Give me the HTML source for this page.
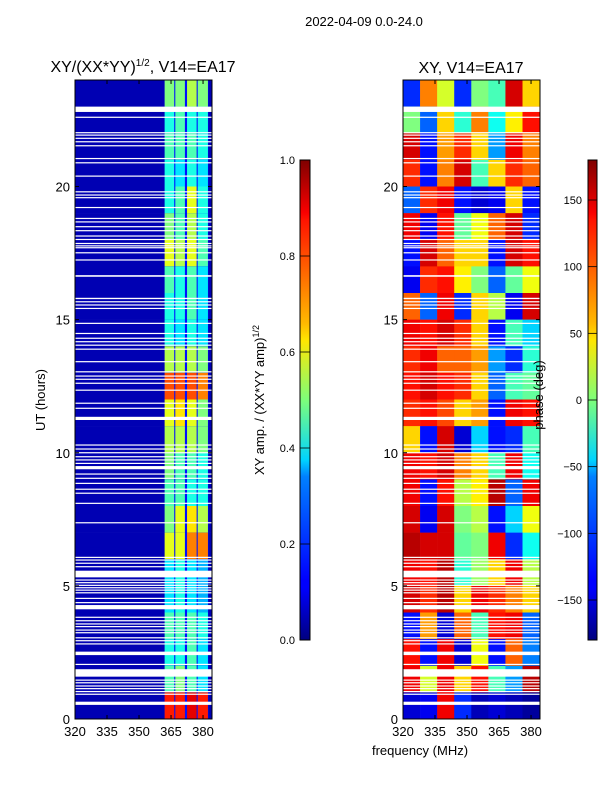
<!DOCTYPE html>
<html><head><meta charset="utf-8"><style>
body{margin:0;background:#fff;}
svg{display:block;font-family:"Liberation Sans",sans-serif;}
</style></head><body>
<svg id="chart" width="600" height="800" viewBox="0 0 600 800" xmlns="http://www.w3.org/2000/svg">
<defs>
<linearGradient id="jet" x1="0" y1="1" x2="0" y2="0">
<stop offset="0" stop-color="#00007f"/><stop offset="0.11" stop-color="#0000ff"/><stop offset="0.125" stop-color="#0000ff"/>
<stop offset="0.34" stop-color="#0080ff"/><stop offset="0.375" stop-color="#00d4ff"/><stop offset="0.5" stop-color="#7dff7a"/>
<stop offset="0.625" stop-color="#ffe600"/><stop offset="0.66" stop-color="#ffb900"/><stop offset="0.875" stop-color="#ff1300"/><stop offset="0.89" stop-color="#fa0000"/><stop offset="1" stop-color="#7f0000"/>
</linearGradient>
</defs>
<text x="364" y="26" font-size="13" text-anchor="middle">2022-04-09 0.0-24.0</text>
<text x="143" y="72" font-size="16" text-anchor="middle">XY/(XX*YY)<tspan font-size="10" dy="-6">1/2</tspan><tspan dy="6">, V14=EA17</tspan></text>
<text x="471" y="73" font-size="16" text-anchor="middle">XY, V14=EA17</text>
<g id="left"></g>
<g id="right"></g>
<g id="axes"></g>
<text x="45" y="400" font-size="13" text-anchor="middle" transform="rotate(-90 45 400)">UT (hours)</text>
<text x="420" y="755" font-size="13" text-anchor="middle">frequency (MHz)</text>
<rect x="300" y="160" width="10" height="480" fill="url(#jet)" stroke="#000" stroke-width="1"/>
<rect x="588" y="160" width="9" height="480" fill="url(#jet)" stroke="#000" stroke-width="1"/>
<text x="264" y="400" font-size="13" text-anchor="middle" transform="rotate(-90 264 400)">XY amp. / (XX*YY amp)<tspan font-size="9" dy="-5">1/2</tspan></text>
<text x="543" y="395" font-size="13" text-anchor="middle" transform="rotate(-90 543 395)">phase (deg)</text>
<g id="cb"></g>
</svg>
<script>
const hours=[23,22,21,20,19,18,17,16,15,14,13,12,11,10,9,8,7,6,5,4,3,2,1,0];
const ampStrips=[[362,366.5],[367,371.5],[372.5,377],[377.5,382.3]];
const ampValues=[[0.5,0.5,0.55,0.5],[0.4,0.45,0.4,0.4],[0.45,0.45,0.45,0.4],[0.4,0.35,0.4,0.35],[0.4,0.45,0.6,0.4],[0.5,0.45,0.55,0.4],[0.6,0.55,0.6,0.45],[0.45,0.4,0.45,0.35],[0.4,0.4,0.45,0.35],[0.4,0.35,0.4,0.35],[0.55,0.55,0.55,0.5],[0.8,0.8,0.8,0.75],[0.6,0.65,0.6,0.5],[0.55,0.55,0.55,0.5],[0.5,0.45,0.45,0.4],[0.45,0.45,0.4,0.4],[0.5,0.6,0.65,0.55],[0.6,0.6,0.75,0.75],[0.35,0.4,0.35,0.3],[0.35,0.4,0.35,0.3],[0.45,0.45,0.45,0.4],[0.4,0.4,0.45,0.35],[0.45,0.5,0.45,0.35],[0.85,0.85,0.9,0.85]];
const ampBackground=0.05;
const phaseCols=[320,328,336,344,352,360,368,376];
const phaseValues=[[-120,90,30,-120,0,-20,150,60],[0,-100,60,-30,90,-40,50,130],[150,-130,80,120,60,-80,140,90],[120,-130,90,150,-20,60,120,100],[-100,120,140,-130,-150,-140,60,-130],[140,-140,130,-10,40,100,150,-120],[-130,150,100,60,60,-130,150,130],[-140,120,130,50,0,-100,-10,40],[100,-100,140,-120,60,20,-140,150],[140,130,150,120,60,-130,-20,-60],[120,140,100,100,80,-80,-120,-30],[130,150,130,120,60,-100,-20,-10],[120,130,110,60,80,-130,140,130],[60,-130,150,-150,-60,-130,-120,-20],[140,130,150,90,60,-20,140,-40],[140,-130,130,20,50,160,-100,140],[150,-140,150,0,20,-130,-60,40],[160,150,150,-10,0,140,-120,-40],[140,130,160,-30,10,60,140,20],[150,120,160,60,140,120,90,60],[-130,80,-150,100,-20,130,140,-100],[130,-130,140,-150,40,-130,100,-90],[140,30,140,60,130,-20,-80,160],[-150,-140,140,-120,-160,-150,-160,-170]];
const flagsThick=[[22.8,23.0],[16.61,16.67],[15.77,15.82],[11.23,11.35],[9.38,9.5],[5.32,5.57],[4.12,4.28],[2.4,2.53],[1.59,1.87],[0.53,0.65]];
const flagsThin=[22.6,22.02,21.93,21.81,21.68,21.53,21.05,20.89,20.39,19.8,19.68,19.58,19.21,18.8,18.67,18.49,18.34,18.14,18.01,17.86,17.77,17.7,17.51,17.24,15.67,15.55,15.42,14.86,14.48,14.3,14.17,14.04,13.89,13.42,13.04,12.88,12.76,12.61,12.35,11.86,11.67,10.29,10.14,10.0,9.85,9.73,9.6,9.2,9.04,8.85,8.63,8.48,8.1,7.37,6.07,5.97,5.85,5.72,5.22,5.12,5.02,4.93,4.84,4.74,4.53,4.37,3.82,3.69,3.57,3.47,3.34,3.24,3.05,2.94,2.82,2.05,1.46,1.36,1.24,1.14,1.03,0.93];
const yTicks=[0,5,10,15,20];
const xTicks=[320,335,350,365,380];
const ampTicks=[0.0,0.2,0.4,0.6,0.8,1.0];
const phaseTicks=[150,100,50,0,-50,-100,-150];

const NS='http://www.w3.org/2000/svg';
const F0=320,F1=384.2,H0=0,H1=24,Y0=719,Y1=80;
const panels=[75,403],PW=137;
function fx(p,f){return panels[p]+(f-F0)/(F1-F0)*PW;}
function hy(h){return Y0-(h-H0)/(H1-H0)*(Y0-Y1);}
function clip(v){return Math.max(0,Math.min(1,v));}
function jet(v){const r=clip(1.5-Math.abs(4*v-3)),g=clip(1.5-Math.abs(4*v-2)),b=clip(1.5-Math.abs(4*v-1));return `rgb(${Math.round(r*255)},${Math.round(g*255)},${Math.round(b*255)})`;}
function el(tag,attrs,parent){const e=document.createElementNS(NS,tag);for(const k in attrs)e.setAttribute(k,attrs[k]);parent.appendChild(e);return e;}
const L=document.getElementById('left'),R=document.getElementById('right'),A=document.getElementById('axes'),CB=document.getElementById('cb');

hours.forEach((h,i)=>{
  const y=hy(h+1),hh=hy(h)-hy(h+1);
  let r=el('rect',{x:fx(0,F0),y:y,width:fx(0,F1)-fx(0,F0),height:hh+0.3,fill:jet(ampBackground)},L);
  
  
  let g=el('rect',{x:fx(0,362),y:y,width:fx(0,382.5)-fx(0,362),height:hh+0.3,fill:jet(0.14)},L);
  
  
  ampStrips.forEach((s,j)=>{
    const c=el('rect',{x:fx(0,s[0]),y:y,width:fx(0,s[1])-fx(0,s[0]),height:hh+0.3,fill:jet(ampValues[i][j])},L);
    
    
  });
  phaseCols.forEach((f,j)=>{
    const f2=j<phaseCols.length-1?phaseCols[j+1]:F1;
    const c=el('rect',{x:fx(1,f),y:y,width:fx(1,f2)-fx(1,f)+0.3,height:hh+0.3,fill:jet((phaseValues[i][j]+180)/360)},R);
    
    
  });
});
[0,1].forEach(p=>{
  const grp=p?R:L;
  flagsThick.forEach(f=>{
    const w=el('rect',{x:panels[p],y:hy(f[1]),width:PW,height:hy(f[0])-hy(f[1]),fill:'#fff'},grp);
    
    
  });
  flagsThin.forEach(h=>{
    const w=el('rect',{x:panels[p],y:hy(h)-0.6,width:PW,height:1.2,fill:'#fff'},grp);
    
    
  });
  const fr=el('rect',{x:panels[p],y:Y1,width:PW,height:Y0-Y1,fill:'none',stroke:'#000','stroke-width':1},A);
  
  
  yTicks.forEach(t=>{
    const y=hy(t);
    el('line',{x1:panels[p],x2:panels[p]+4,y1:y,y2:y,stroke:'#000'},A);
    el('line',{x1:panels[p]+PW,x2:panels[p]+PW-4,y1:y,y2:y,stroke:'#000'},A);
    const tx=el('text',{x:panels[p]-5,y:y+5,'font-size':13,'text-anchor':'end'},A);
    tx.textContent=t;
    
    
  });
  xTicks.forEach(t=>{
    const x=fx(p,t);
    el('line',{x1:x,x2:x,y1:Y0,y2:Y0-4,stroke:'#000'},A);
    el('line',{x1:x,x2:x,y1:Y1,y2:Y1+4,stroke:'#000'},A);
    const tx=el('text',{x:x,y:Y0+17,'font-size':13,'text-anchor':'middle'},A);
    tx.textContent=t;
    
    
  });
});
ampTicks.forEach(t=>{
  const y=640-t*480;
  el('line',{x1:300,x2:310,y1:y,y2:y,stroke:'#000','stroke-width':0.8},CB);
  const tx=el('text',{x:295,y:y+4,'font-size':11,'text-anchor':'end'},CB);
  tx.textContent=t.toFixed(1);
  
  
});
phaseTicks.forEach(t=>{
  const y=640-(t+180)/360*480;
  el('line',{x1:588,x2:597,y1:y,y2:y,stroke:'#000','stroke-width':0.8},CB);
  const tx=el('text',{x:582,y:y+4,'font-size':11,'text-anchor':'end'},CB);
  tx.textContent=t<0?'\u2212'+Math.abs(t):t;
  
  
});
</script>
</body></html>
